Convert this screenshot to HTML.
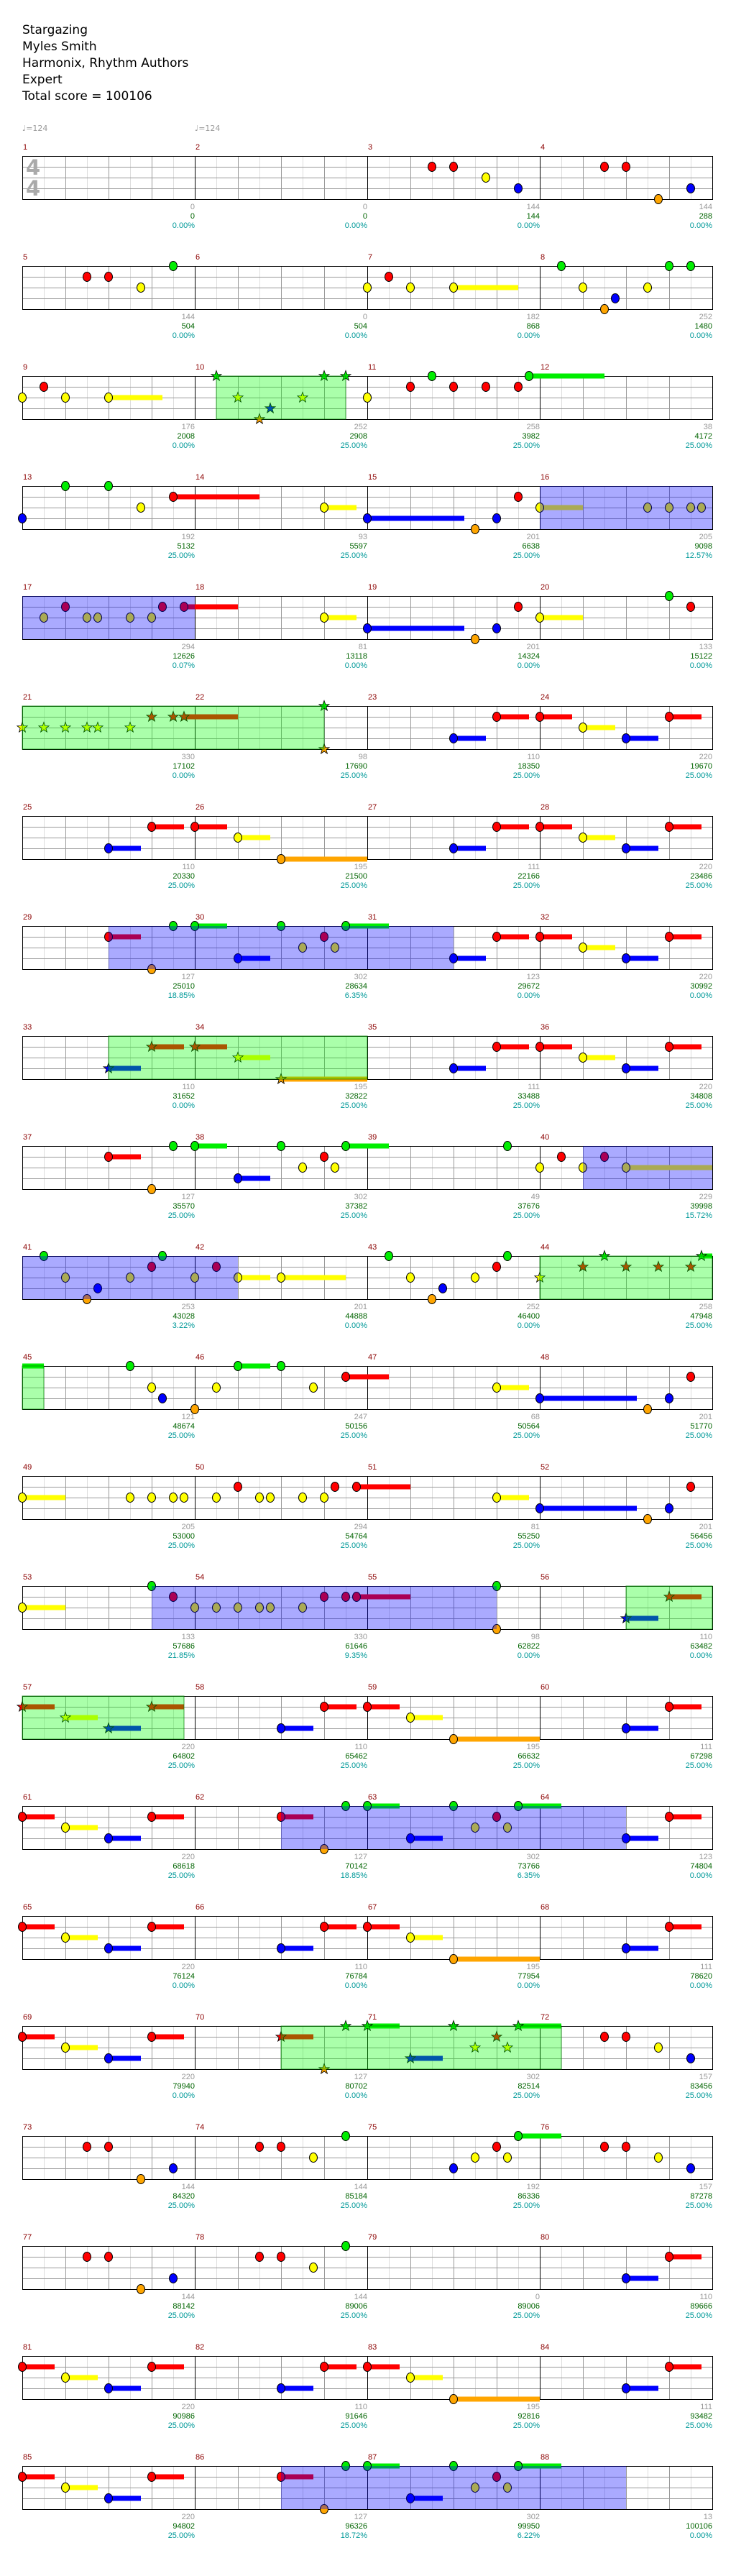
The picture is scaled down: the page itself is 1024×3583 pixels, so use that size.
<!DOCTYPE html>
<html><head><meta charset="utf-8">
<style>
html,body{margin:0;padding:0;background:#fff;}
body{width:1024px;height:3583px;position:relative;overflow:hidden;font-family:"DejaVu Sans","Liberation Sans",sans-serif;}
.hd{position:absolute;left:31px;top:31px;font-size:17px;line-height:23px;color:#000;}
.tp{position:absolute;top:172px;font-size:11px;color:#999;}
.r{position:absolute;left:31px;width:961px;height:61px;}
.st{position:absolute;left:0;top:0;width:961px;height:61px;
background:
linear-gradient(to right,#000 1px,transparent 1px) 0 0/240px 100%,
linear-gradient(to bottom,#000 1px,transparent 1px) 0 0/100% 60px,
linear-gradient(to bottom,#999 1px,transparent 1px) 0 0/100% 15px,
linear-gradient(to right,#999 1px,transparent 1px) 0 0/60px 100%,
linear-gradient(to right,#ddd 1px,transparent 1px) 0 0/30px 100%;}
.m{position:absolute;top:-18px;font:11px/13px "Liberation Sans",sans-serif;color:#8b0000;}
.m0{left:1px}.m1{left:241px}.m2{left:481px}.m3{left:721px}
.b{position:absolute;top:65px;width:100px;text-align:right;font:11px/13px "Liberation Sans",sans-serif;color:#999;}
.b i{font-style:normal;color:#006400}.b u{text-decoration:none;color:#009999}
.b0{left:140px}.b1{left:380px}.b2{left:620px}.b3{left:860px}
.ts{position:absolute;left:5px;font:bold 29px/29px "DejaVu Sans",sans-serif;color:#aaa;}
svg{position:absolute;left:0;top:0;}
</style></head><body>
<div class="hd">Stargazing<br>Myles Smith<br>Harmonix, Rhythm Authors<br>Expert<br>Total score = 100106</div>
<div class="tp" style="left:31px">♩=124</div>
<div class="tp" style="left:271px">♩=124</div>

<div class="r" style="top:217px"><div class="st"></div><div class="ts" style="top:2px">4</div><div class="ts" style="top:31px">4</div><span class="m m0">1</span><span class="m m1">2</span><span class="m m2">3</span><span class="m m3">4</span>
<div class="b b0">0<br><i>0</i><br><u>0.00%</u></div><div class="b b1">0<br><i>0</i><br><u>0.00%</u></div><div class="b b2">144<br><i>144</i><br><u>0.00%</u></div><div class="b b3">144<br><i>288</i><br><u>0.00%</u></div></div>

<div class="r" style="top:370px"><div class="st"></div><span class="m m0">5</span><span class="m m1">6</span><span class="m m2">7</span><span class="m m3">8</span>
<div class="b b0">144<br><i>504</i><br><u>0.00%</u></div><div class="b b1">0<br><i>504</i><br><u>0.00%</u></div><div class="b b2">182<br><i>868</i><br><u>0.00%</u></div><div class="b b3">252<br><i>1480</i><br><u>0.00%</u></div></div>

<div class="r" style="top:523px"><div class="st"></div><span class="m m0">9</span><span class="m m1">10</span><span class="m m2">11</span><span class="m m3">12</span>
<div class="b b0">176<br><i>2008</i><br><u>0.00%</u></div><div class="b b1">252<br><i>2908</i><br><u>25.00%</u></div><div class="b b2">258<br><i>3982</i><br><u>25.00%</u></div><div class="b b3">38<br><i>4172</i><br><u>25.00%</u></div></div>

<div class="r" style="top:676px"><div class="st"></div><span class="m m0">13</span><span class="m m1">14</span><span class="m m2">15</span><span class="m m3">16</span>
<div class="b b0">192<br><i>5132</i><br><u>25.00%</u></div><div class="b b1">93<br><i>5597</i><br><u>25.00%</u></div><div class="b b2">201<br><i>6638</i><br><u>25.00%</u></div><div class="b b3">205<br><i>9098</i><br><u>12.57%</u></div></div>

<div class="r" style="top:829px"><div class="st"></div><span class="m m0">17</span><span class="m m1">18</span><span class="m m2">19</span><span class="m m3">20</span>
<div class="b b0">294<br><i>12626</i><br><u>0.07%</u></div><div class="b b1">81<br><i>13118</i><br><u>0.00%</u></div><div class="b b2">201<br><i>14324</i><br><u>0.00%</u></div><div class="b b3">133<br><i>15122</i><br><u>0.00%</u></div></div>

<div class="r" style="top:982px"><div class="st"></div><span class="m m0">21</span><span class="m m1">22</span><span class="m m2">23</span><span class="m m3">24</span>
<div class="b b0">330<br><i>17102</i><br><u>0.00%</u></div><div class="b b1">98<br><i>17690</i><br><u>25.00%</u></div><div class="b b2">110<br><i>18350</i><br><u>25.00%</u></div><div class="b b3">220<br><i>19670</i><br><u>25.00%</u></div></div>

<div class="r" style="top:1135px"><div class="st"></div><span class="m m0">25</span><span class="m m1">26</span><span class="m m2">27</span><span class="m m3">28</span>
<div class="b b0">110<br><i>20330</i><br><u>25.00%</u></div><div class="b b1">195<br><i>21500</i><br><u>25.00%</u></div><div class="b b2">111<br><i>22166</i><br><u>25.00%</u></div><div class="b b3">220<br><i>23486</i><br><u>25.00%</u></div></div>

<div class="r" style="top:1288px"><div class="st"></div><span class="m m0">29</span><span class="m m1">30</span><span class="m m2">31</span><span class="m m3">32</span>
<div class="b b0">127<br><i>25010</i><br><u>18.85%</u></div><div class="b b1">302<br><i>28634</i><br><u>6.35%</u></div><div class="b b2">123<br><i>29672</i><br><u>0.00%</u></div><div class="b b3">220<br><i>30992</i><br><u>0.00%</u></div></div>

<div class="r" style="top:1441px"><div class="st"></div><span class="m m0">33</span><span class="m m1">34</span><span class="m m2">35</span><span class="m m3">36</span>
<div class="b b0">110<br><i>31652</i><br><u>0.00%</u></div><div class="b b1">195<br><i>32822</i><br><u>25.00%</u></div><div class="b b2">111<br><i>33488</i><br><u>25.00%</u></div><div class="b b3">220<br><i>34808</i><br><u>25.00%</u></div></div>

<div class="r" style="top:1594px"><div class="st"></div><span class="m m0">37</span><span class="m m1">38</span><span class="m m2">39</span><span class="m m3">40</span>
<div class="b b0">127<br><i>35570</i><br><u>25.00%</u></div><div class="b b1">302<br><i>37382</i><br><u>25.00%</u></div><div class="b b2">49<br><i>37676</i><br><u>25.00%</u></div><div class="b b3">229<br><i>39998</i><br><u>15.72%</u></div></div>

<div class="r" style="top:1747px"><div class="st"></div><span class="m m0">41</span><span class="m m1">42</span><span class="m m2">43</span><span class="m m3">44</span>
<div class="b b0">253<br><i>43028</i><br><u>3.22%</u></div><div class="b b1">201<br><i>44888</i><br><u>0.00%</u></div><div class="b b2">252<br><i>46400</i><br><u>0.00%</u></div><div class="b b3">258<br><i>47948</i><br><u>25.00%</u></div></div>

<div class="r" style="top:1900px"><div class="st"></div><span class="m m0">45</span><span class="m m1">46</span><span class="m m2">47</span><span class="m m3">48</span>
<div class="b b0">121<br><i>48674</i><br><u>25.00%</u></div><div class="b b1">247<br><i>50156</i><br><u>25.00%</u></div><div class="b b2">68<br><i>50564</i><br><u>25.00%</u></div><div class="b b3">201<br><i>51770</i><br><u>25.00%</u></div></div>

<div class="r" style="top:2053px"><div class="st"></div><span class="m m0">49</span><span class="m m1">50</span><span class="m m2">51</span><span class="m m3">52</span>
<div class="b b0">205<br><i>53000</i><br><u>25.00%</u></div><div class="b b1">294<br><i>54764</i><br><u>25.00%</u></div><div class="b b2">81<br><i>55250</i><br><u>25.00%</u></div><div class="b b3">201<br><i>56456</i><br><u>25.00%</u></div></div>

<div class="r" style="top:2206px"><div class="st"></div><span class="m m0">53</span><span class="m m1">54</span><span class="m m2">55</span><span class="m m3">56</span>
<div class="b b0">133<br><i>57686</i><br><u>21.85%</u></div><div class="b b1">330<br><i>61646</i><br><u>9.35%</u></div><div class="b b2">98<br><i>62822</i><br><u>0.00%</u></div><div class="b b3">110<br><i>63482</i><br><u>0.00%</u></div></div>

<div class="r" style="top:2359px"><div class="st"></div><span class="m m0">57</span><span class="m m1">58</span><span class="m m2">59</span><span class="m m3">60</span>
<div class="b b0">220<br><i>64802</i><br><u>25.00%</u></div><div class="b b1">110<br><i>65462</i><br><u>25.00%</u></div><div class="b b2">195<br><i>66632</i><br><u>25.00%</u></div><div class="b b3">111<br><i>67298</i><br><u>25.00%</u></div></div>

<div class="r" style="top:2512px"><div class="st"></div><span class="m m0">61</span><span class="m m1">62</span><span class="m m2">63</span><span class="m m3">64</span>
<div class="b b0">220<br><i>68618</i><br><u>25.00%</u></div><div class="b b1">127<br><i>70142</i><br><u>18.85%</u></div><div class="b b2">302<br><i>73766</i><br><u>6.35%</u></div><div class="b b3">123<br><i>74804</i><br><u>0.00%</u></div></div>

<div class="r" style="top:2665px"><div class="st"></div><span class="m m0">65</span><span class="m m1">66</span><span class="m m2">67</span><span class="m m3">68</span>
<div class="b b0">220<br><i>76124</i><br><u>0.00%</u></div><div class="b b1">110<br><i>76784</i><br><u>0.00%</u></div><div class="b b2">195<br><i>77954</i><br><u>0.00%</u></div><div class="b b3">111<br><i>78620</i><br><u>0.00%</u></div></div>

<div class="r" style="top:2818px"><div class="st"></div><span class="m m0">69</span><span class="m m1">70</span><span class="m m2">71</span><span class="m m3">72</span>
<div class="b b0">220<br><i>79940</i><br><u>0.00%</u></div><div class="b b1">127<br><i>80702</i><br><u>0.00%</u></div><div class="b b2">302<br><i>82514</i><br><u>25.00%</u></div><div class="b b3">157<br><i>83456</i><br><u>25.00%</u></div></div>

<div class="r" style="top:2971px"><div class="st"></div><span class="m m0">73</span><span class="m m1">74</span><span class="m m2">75</span><span class="m m3">76</span>
<div class="b b0">144<br><i>84320</i><br><u>25.00%</u></div><div class="b b1">144<br><i>85184</i><br><u>25.00%</u></div><div class="b b2">192<br><i>86336</i><br><u>25.00%</u></div><div class="b b3">157<br><i>87278</i><br><u>25.00%</u></div></div>

<div class="r" style="top:3124px"><div class="st"></div><span class="m m0">77</span><span class="m m1">78</span><span class="m m2">79</span><span class="m m3">80</span>
<div class="b b0">144<br><i>88142</i><br><u>25.00%</u></div><div class="b b1">144<br><i>89006</i><br><u>25.00%</u></div><div class="b b2">0<br><i>89006</i><br><u>25.00%</u></div><div class="b b3">110<br><i>89666</i><br><u>25.00%</u></div></div>

<div class="r" style="top:3277px"><div class="st"></div><span class="m m0">81</span><span class="m m1">82</span><span class="m m2">83</span><span class="m m3">84</span>
<div class="b b0">220<br><i>90986</i><br><u>25.00%</u></div><div class="b b1">110<br><i>91646</i><br><u>25.00%</u></div><div class="b b2">195<br><i>92816</i><br><u>25.00%</u></div><div class="b b3">111<br><i>93482</i><br><u>25.00%</u></div></div>

<div class="r" style="top:3430px"><div class="st"></div><span class="m m0">85</span><span class="m m1">86</span><span class="m m2">87</span><span class="m m3">88</span>
<div class="b b0">220<br><i>94802</i><br><u>25.00%</u></div><div class="b b1">127<br><i>96326</i><br><u>18.72%</u></div><div class="b b2">302<br><i>99950</i><br><u>6.22%</u></div><div class="b b3">13<br><i>100106</i><br><u>0.00%</u></div></div>

<svg id="sv" width="1024" height="3583" viewBox="0 0 1024 3583" xmlns="http://www.w3.org/2000/svg"></svg>
<script>
var P4="20:3-21.5 22:1-23.5 24:1-25.5 26:2-27.5 28:3-29.5 30:1-31.5";
var A="0:1-1.5 2:2-3.5 4:3-5.5 6:1-7.5 ";
var R17=A+"12:3-13.5 14:1-15.5 16:1-17.5 18:2-19.5 20:4-24 28:3-29.5 30:1-31.5";
var D=[
["19:1 20:1 21.5:2 23:3 27:1 28:1 29.5:4 31:3",[],[]],
["3:1 4:1 5.5:2 7:0 16:2 17:1 18:2 20:2-23 25:0 26:2 27:4 27.5:3 29:2 30:0 31:0",[],[]],
["0:2 1:1 2:2 4:2-6.5 *9:0 *14:0 *15:0 *10:2 *13:2 *11.5:3 *11:4 16:2 18:1 19:0 20:1 21.5:1 23:1 23.5:0-27",[],[[9,15]]],
["0:3 2:0 4:0 5.5:2 7:1-11 14:2-15.5 16:3-20.5 21:4 22:3 23:1 24:2-26 29:2 30:2 31:2 31.5:2",[[24,32]],[]],
["1:2 2:1 3:2 3.5:2 5:2 6:2 6.5:1 7.5:1-10 14:2-15.5 16:3-20.5 21:4 22:3 23:1 24:2-26 30:0 31:1",[[0,8]],[]],
["*0:2 *1:2 *2:2 *3:2 *3.5:2 *5:2 *6:1 *7:1 *7.5:1-10 *14:0 *14:4 "+P4,[],[[0,14]]],
["4:3-5.5 6:1-7.5 8:1-9.5 10:2-11.5 12:4-16 "+P4,[],[]],
["4:1-5.5 6:4 7:0 8:0-9.5 10:3-11.5 12:0 13:2 14:1 14.5:2 15:0-17 "+P4,[[4,20]],[]],
["*4:3-5.5 *6:1-7.5 *8:1-9.5 *10:2-11.5 *12:4-16 "+P4,[],[[4,16]]],
["4:1-5.5 6:4 7:0 8:0-9.5 10:3-11.5 12:0 13:2 14:1 14.5:2 15:0-17 22.5:0 24:2 25:1 26:2 27:1 28:2-32",[[26,32]],[]],
["1:0 2:2 3:4 3.5:3 5:2 6:1 6.5:0 8:2 9:1 10:2-11.5 12:2-15 17:0 18:2 19:4 19.5:3 21:2 22:1 22.5:0 *24:2 *26:1 *28:1 *29.5:1 *31:1 *27:0 *31.5:0-32",[[0,10]],[[24,32]]],
["t0:0-1 5:0 6:2 6.5:3 8:4 9:2 10:0-11.5 12:0 13.5:2 15:1-17 22:2-23.5 24:3-28.5 29:4 30:3 31:1",[],[[0,1]]],
["0:2-2 5:2 6:2 7:2 7.5:2 9:2 10:1 11:2 11.5:2 13:2 14:2 14.5:1 15.5:1-18 22:2-23.5 24:3-28.5 29:4 30:3 31:1",[],[]],
["0:2-2 6:0 7:1 8:2 9:2 10:2 11:2 11.5:2 13:2 14:1 15:1 15.5:1-18 22:0 22:4 *28:3-29.5 *30:1-31.5",[[6,22]],[[28,32]]],
["*0:1-1.5 *2:2-3.5 *4:3-5.5 *6:1-7.5 12:3-13.5 14:1-15.5 16:1-17.5 18:2-19.5 20:4-24 28:3-29.5 30:1-31.5",[],[[0,7.5]]],
[A+"12:1-13.5 14:4 15:0 16:0-17.5 18:3-19.5 20:0 21:2 22:1 22.5:2 23:0-25 28:3-29.5 30:1-31.5",[[12,28]],[]],
[R17,[],[]],
[A+"*12:1-13.5 *14:4 *15:0 *16:0-17.5 *18:3-19.5 *20:0 *21:2 *22:1 *22.5:2 *23:0-25 27:1 28:1 29.5:2 31:3",[],[[12,25]]],
["3:1 4:1 5.5:4 7:3 11:1 12:1 13.5:2 15:0 20:3 21:2 22:1 22.5:2 23:0-25 27:1 28:1 29.5:2 31:3",[],[]],
["3:1 4:1 5.5:4 7:3 11:1 12:1 13.5:2 15:0 28:3-29.5 30:1-31.5",[],[]],
[R17,[],[]],
[A+"12:1-13.5 14:4 15:0 16:0-17.5 18:3-19.5 20:0 21:2 22:1 22.5:2 23:0-25",[[12,28]],[]]
];
var C=['#00ee00','#ff0000','#ffff00','#0000ff','#ffa500'];
var NS="http://www.w3.org/2000/svg",sv=document.getElementById('sv');
function el(n,a){var e=document.createElementNS(NS,n);for(var k in a)e.setAttribute(k,a[k]);sv.appendChild(e);return e;}
function star(cx,cy,c){var p=[];for(var i=0;i<10;i++){var r=i%2?3:7.5,a=-Math.PI/2+i*Math.PI/5;p.push((cx+r*Math.cos(a)).toFixed(1)+','+(cy+r*Math.sin(a)).toFixed(1));}el('polygon',{points:p.join(' '),fill:c,stroke:'#000','stroke-width':0.8});}
D.forEach(function(r,k){
 var T=217+153*k,toks=r[0].trim().split(/\s+/),heads=[];
 toks.forEach(function(t){
  var s=0,tl=0;if(t[0]=='*'){s=1;t=t.slice(1);} if(t[0]=='t'){tl=1;t=t.slice(1);}
  var a=t.split(':'),g=parseFloat(a[0]),b=a[1].split('-'),L=+b[0],e=b[1]?parseFloat(b[1]):0;
  var x=31+g*30,y=T+L*15;
  if(e){el('rect',{x:x,y:y-3.5,width:(e-g)*30,height:7,fill:C[L]});}
  if(!tl)heads.push([x,y,L,s]);
 });
 heads.forEach(function(h){ if(h[3])star(h[0],h[1],C[h[2]]); else el('ellipse',{cx:h[0],cy:h[1],rx:5.5,ry:6.5,fill:C[h[2]],stroke:'#000','stroke-width':1}); });
 r[1].forEach(function(b){el('rect',{x:31+b[0]*30,y:T,width:(b[1]-b[0])*30,height:60,fill:'rgba(0,0,255,0.333)'});});
 r[2].forEach(function(b){el('rect',{x:31+b[0]*30,y:T,width:(b[1]-b[0])*30,height:60,fill:'rgba(0,255,0,0.333)',stroke:'rgba(0,120,0,0.7)','stroke-width':1});});
});
</script>
</body></html>
